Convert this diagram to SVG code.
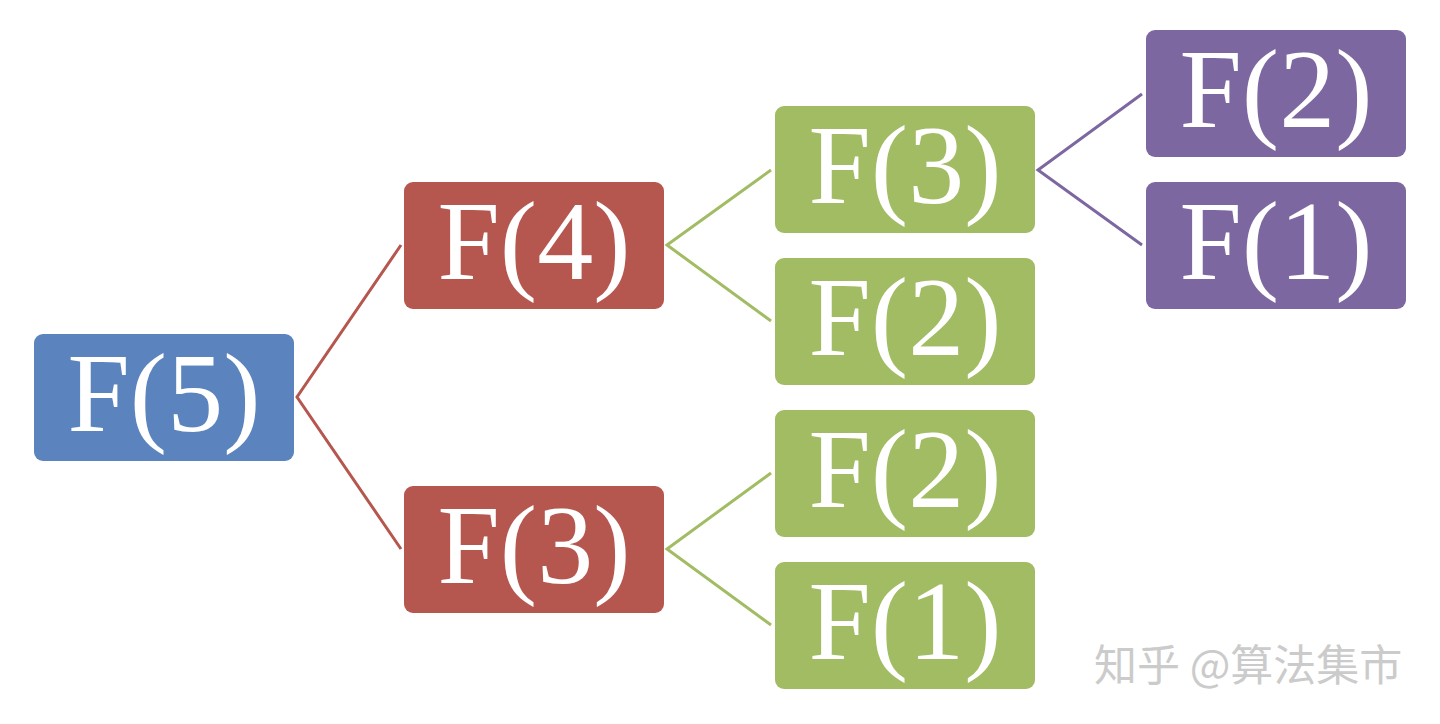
<svg xmlns="http://www.w3.org/2000/svg" width="1440" height="724" viewBox="0 0 1440 724">
<style>
.box{stroke:none}
.blue{fill:#5B83BD}
.red{fill:#B5574F}
.green{fill:#A1BC63}
.purple{fill:#7C67A0}
.lbl{font-family:"Liberation Serif","Times New Roman",serif;font-size:112px;fill:#ffffff;text-anchor:middle}
.c{fill:none;stroke-width:3}
.cr{stroke:#B5574F}
.cg{stroke:#A1BC63}
.cp{stroke:#7C67A0}
.wm{font-family:"Noto Sans CJK SC","Noto Sans",sans-serif;font-size:43px;fill:#cbcbcb}
</style>
<rect width="1440" height="724" fill="#ffffff"/>
<g id="connectors">
<polyline class="c cr" points="401,245 297,397 401,549"/>
<polyline class="c cg" points="771,170 667,245 771,321"/>
<polyline class="c cg" points="771,473 667,549 771,625"/>
<polyline class="c cp" points="1142,94 1038,170 1142,245"/>
</g>
<g id="n_f5"><rect class="box blue" x="34" y="334" width="260" height="127" rx="9"/><text class="lbl" x="164" y="431">F(5)</text></g>
<g id="n_f4"><rect class="box red" x="404" y="182" width="260" height="127" rx="9"/><text class="lbl" x="534" y="279">F(4)</text></g>
<g id="n_f3a"><rect class="box red" x="404" y="486" width="260" height="127" rx="9"/><text class="lbl" x="534" y="583">F(3)</text></g>
<g id="n_f3b"><rect class="box green" x="775" y="106" width="260" height="127" rx="9"/><text class="lbl" x="905" y="203">F(3)</text></g>
<g id="n_f2a"><rect class="box green" x="775" y="258" width="260" height="127" rx="9"/><text class="lbl" x="905" y="355">F(2)</text></g>
<g id="n_f2b"><rect class="box green" x="775" y="410" width="260" height="127" rx="9"/><text class="lbl" x="905" y="507">F(2)</text></g>
<g id="n_f1a"><rect class="box green" x="775" y="562" width="260" height="127" rx="9"/><text class="lbl" x="905" y="659">F(1)</text></g>
<g id="n_f2c"><rect class="box purple" x="1146" y="30" width="260" height="127" rx="9"/><text class="lbl" x="1276" y="127">F(2)</text></g>
<g id="n_f1b"><rect class="box purple" x="1146" y="182" width="260" height="127" rx="9"/><text class="lbl" x="1276" y="279">F(1)</text></g>
<text class="wm" x="1094" y="681">知乎 @算法集市</text>
</svg>
